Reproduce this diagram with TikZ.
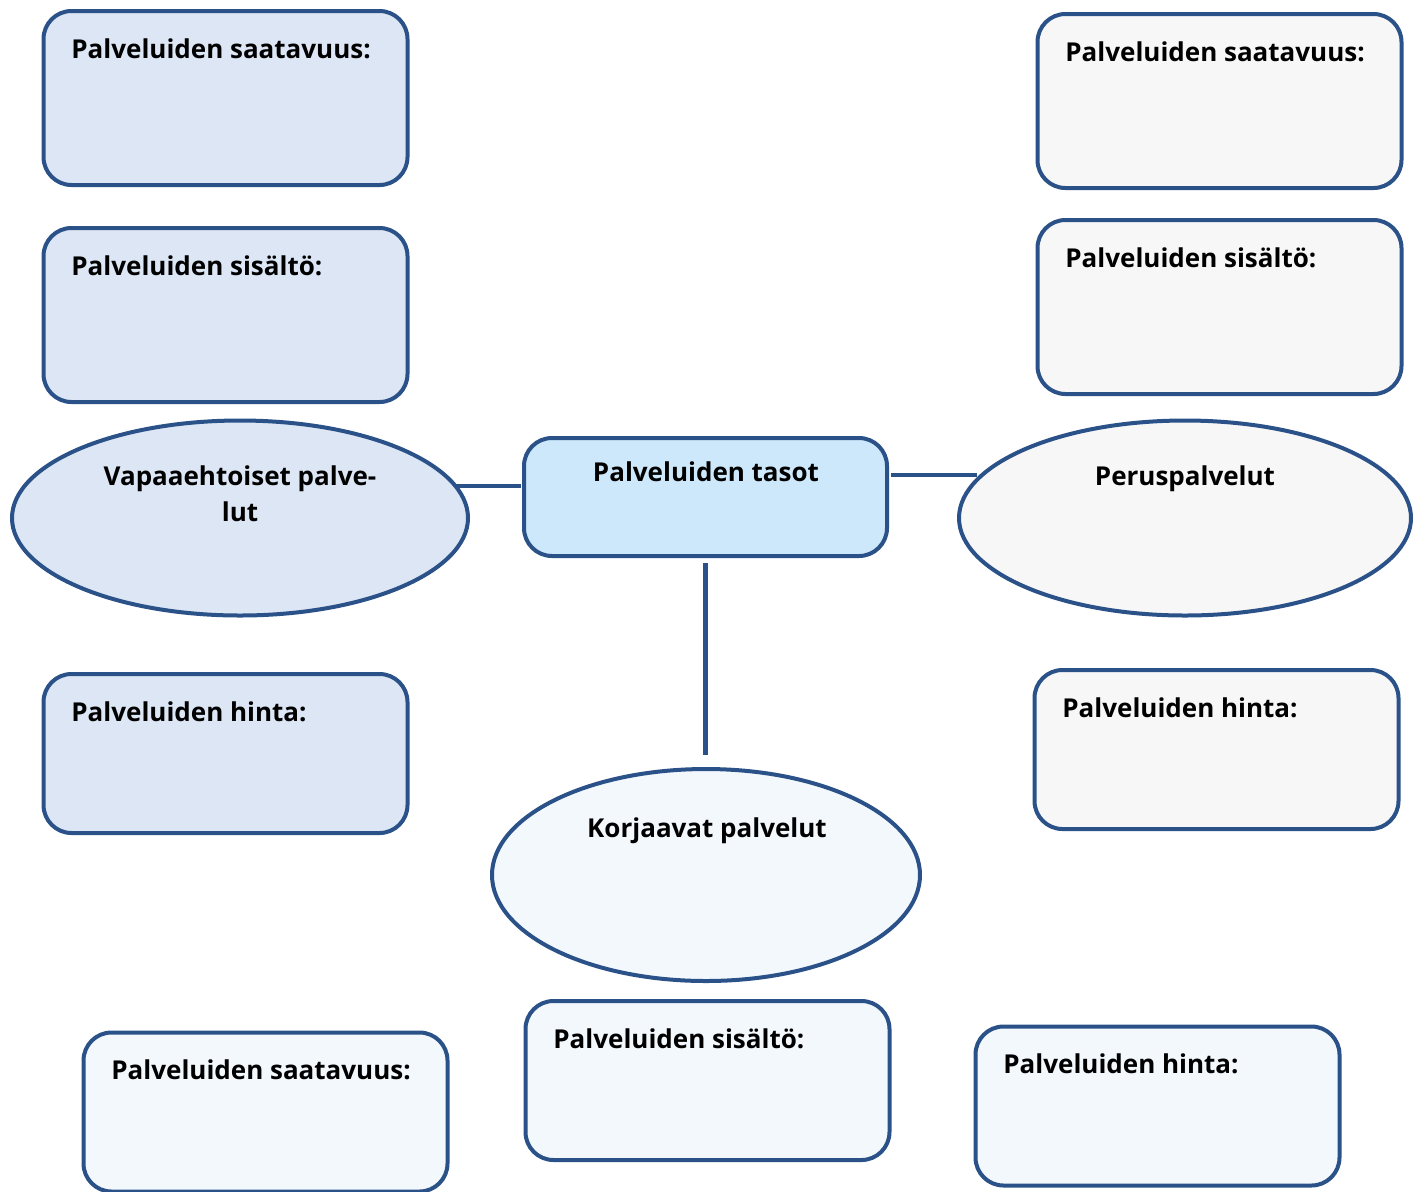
\documentclass[tikz,border=0pt]{standalone}
\usepackage{fontspec}
\setmainfont{Open Sans}
\usepackage{tikz}
\usetikzlibrary{positioning,shapes.geometric}
\definecolor{reuna}{HTML}{2B5189}
\definecolor{vasen}{HTML}{DCE6F4}
\definecolor{keski}{HTML}{CDE8FA}
\definecolor{oikea}{HTML}{F7F7F7}
\definecolor{ala}{HTML}{F3F8FD}

\begin{document}
\begin{tikzpicture}[
  x=0.5pt,y=-0.5pt,
  mybox/.style={draw=reuna,line width=2pt,rectangle,rounded corners=14pt,
    minimum width=182pt,minimum height=87pt,inner sep=0pt,outer sep=0pt},
  myellipse/.style={draw=reuna,line width=2pt,ellipse,inner sep=0pt,outer sep=0pt},
  mytext/.style={anchor=base west,inner sep=0pt,font=\fontsize{13}{18}\selectfont\bfseries},
  myline/.style={draw=reuna,line width=2.4pt}
]
\useasboundingbox (0,0) rectangle (1420,1191);
% vasen puoli
\node[mybox,fill=vasen] (vsaat) at (225.5,98) {};
\node[mybox,fill=vasen] (vsis) at (225.5,315) {};
\node[myellipse,fill=vasen,minimum width=228pt,minimum height=97.5pt] (vap) at (240,518) {};
\node[mybox,fill=vasen,minimum height=79.5pt] (vhin) at (225.5,753.5) {};
% keskella
\node[mybox,fill=keski,minimum width=181.5pt,minimum height=59pt] (tasot) at (705.5,497) {};
\node[myellipse,fill=ala,minimum width=214pt,minimum height=106pt] (korj) at (706,875) {};
% oikea puoli
\node[mybox,fill=oikea] (osaat) at (1219.5,101) {};
\node[mybox,fill=oikea] (osis) at (1219.5,307) {};
\node[myellipse,fill=oikea,minimum width=226pt,minimum height=97.5pt] (perus) at (1185,518) {};
\node[mybox,fill=oikea,minimum height=79.5pt] (ohin) at (1216.5,749.5) {};
% alarivi
\node[mybox,fill=ala,minimum height=79.5pt] (asaat) at (265.5,1112) {};
\node[mybox,fill=ala,minimum height=79.5pt] (asis) at (707.5,1080.5) {};
\node[mybox,fill=ala,minimum height=79.5pt] (ahin) at (1157.5,1106) {};

% tekstit
\node[mytext] (tvsaat) at ([xshift=13.75pt,yshift=-23.5pt]vsaat.north west) {Palveluiden saatavuus:};
\node[mytext] (tvsis) at ([xshift=13.75pt,yshift=-23.5pt]vsis.north west) {Palveluiden sisältö:};
\node[mytext] (tvhin) at ([xshift=13.75pt,yshift=-23.5pt]vhin.north west) {Palveluiden hinta:};
\node[mytext] (tosaat) at ([xshift=13.75pt,yshift=-23.5pt]osaat.north west) {Palveluiden saatavuus:};
\node[mytext] (tosis) at ([xshift=13.75pt,yshift=-23.5pt]osis.north west) {Palveluiden sisältö:};
\node[mytext] (tohin) at ([xshift=13.75pt,yshift=-23.5pt]ohin.north west) {Palveluiden hinta:};
\node[mytext] (tasaat) at ([xshift=13.75pt,yshift=-23.5pt]asaat.north west) {Palveluiden saatavuus:};
\node[mytext] (tasis) at ([xshift=13.75pt,yshift=-23.5pt]asis.north west) {Palveluiden sisältö:};
\node[mytext] (tahin) at ([xshift=13.75pt,yshift=-23.5pt]ahin.north west) {Palveluiden hinta:};
\node[mytext,anchor=base] (ttasot) at (706,481) {Palveluiden tasot};
\node[mytext,anchor=base,align=center] (tvap) at (240,521) {Vapaaehtoiset palve-\\lut};
\node[mytext,anchor=base] (tperus) at (1185,485) {Peruspalvelut};
\node[mytext,anchor=base] (tkorj) at (707,837) {Korjaavat palvelut};

% yhteydet
\draw[myline] ([xshift=-1.5pt,yshift=5.5pt]tasot.west) -- ([xshift=-6.5pt,yshift=5.5pt]tasot.west -| vap.east);
\draw[myline] ([xshift=2pt,yshift=11pt]tasot.east) -- ([xshift=9pt,yshift=21.5pt]perus.west);
\draw[myline] ([yshift=-3.5pt]tasot.south) -- ([yshift=7pt]tasot.south |- korj.north);
\end{tikzpicture}
\end{document}
